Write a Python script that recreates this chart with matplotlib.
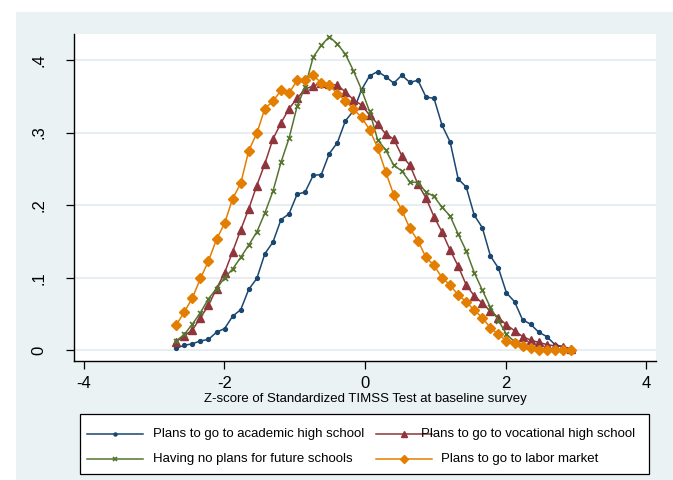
import matplotlib.pyplot as plt
from matplotlib.lines import Line2D
from matplotlib.patches import Rectangle

plt.rcParams['font.family'] = ['Liberation Sans', 'DejaVu Sans']
plt.rcParams['axes.unicode_minus'] = False

# evaluation points of the kernel densities (z-score)
zscore = [-2.685, -2.570, -2.456, -2.341, -2.227, -2.112, -1.997, -1.883, -1.768, -1.654,
          -1.539, -1.425, -1.310, -1.195, -1.081, -0.966, -0.852, -0.737, -0.622, -0.508,
          -0.393, -0.279, -0.164, -0.049, 0.065, 0.180, 0.294, 0.409, 0.524, 0.638,
          0.753, 0.867, 0.982, 1.096, 1.211, 1.326, 1.440, 1.555, 1.669, 1.784,
          1.899, 2.013, 2.128, 2.242, 2.357, 2.471, 2.586, 2.701, 2.815, 2.930]

academic = [0.003, 0.007, 0.009, 0.013, 0.015, 0.025, 0.030, 0.047, 0.056, 0.084,
            0.099, 0.133, 0.149, 0.180, 0.188, 0.215, 0.218, 0.241, 0.242, 0.271,
            0.286, 0.316, 0.330, 0.359, 0.378, 0.384, 0.377, 0.368, 0.379, 0.369,
            0.372, 0.349, 0.347, 0.310, 0.287, 0.236, 0.225, 0.186, 0.169, 0.130,
            0.113, 0.079, 0.067, 0.042, 0.036, 0.025, 0.019, 0.008, 0.005, 0.002]

vocational = [0.012, 0.020, 0.028, 0.045, 0.062, 0.085, 0.107, 0.136, 0.166, 0.195,
              0.227, 0.257, 0.291, 0.313, 0.333, 0.347, 0.360, 0.364, 0.368, 0.367,
              0.365, 0.356, 0.345, 0.338, 0.324, 0.312, 0.298, 0.291, 0.268, 0.255,
              0.229, 0.210, 0.184, 0.163, 0.138, 0.116, 0.090, 0.075, 0.065, 0.054,
              0.045, 0.035, 0.027, 0.019, 0.014, 0.011, 0.008, 0.006, 0.005, 0.002]

no_plans = [0.013, 0.022, 0.036, 0.052, 0.071, 0.085, 0.100, 0.112, 0.128, 0.145,
            0.163, 0.189, 0.219, 0.259, 0.292, 0.336, 0.363, 0.404, 0.420, 0.432,
            0.422, 0.408, 0.385, 0.359, 0.329, 0.290, 0.276, 0.255, 0.247, 0.232,
            0.231, 0.218, 0.212, 0.197, 0.185, 0.160, 0.137, 0.107, 0.083, 0.059,
            0.041, 0.022, 0.012, 0.005, 0.003, 0.0015, 0.001, 0.0005, 0.0005, 0.0005]

labor = [0.035, 0.053, 0.072, 0.099, 0.123, 0.153, 0.175, 0.209, 0.230, 0.275,
         0.299, 0.333, 0.343, 0.358, 0.354, 0.372, 0.373, 0.379, 0.368, 0.366,
         0.353, 0.344, 0.332, 0.321, 0.304, 0.279, 0.246, 0.214, 0.193, 0.168,
         0.151, 0.128, 0.117, 0.100, 0.090, 0.076, 0.067, 0.055, 0.045, 0.031,
         0.022, 0.013, 0.010, 0.006, 0.003, 0.001, 0.0, 0.0, 0.0, 0.0]

labels = ["Plans to go to academic high school", "Plans to go to vocational high school",
          "Having no plans for future schools", "Plans to go to labor market"]
xticks = [-4, -2, 0, 2, 4]
yticks = [0, 0.1, 0.2, 0.3, 0.4]
ytick_labels = ["0", ".1", ".2", ".3", ".4"]

colors = ['#1A476F', '#90353B', '#55752F', '#E37E00']
styles = [dict(marker='o', ms=2.8),
          dict(marker='^', ms=5.2),
          dict(marker='x', ms=3.6, mew=1.2),
          dict(marker='D', ms=5.0)]
series = [academic, vocational, no_plans, labor]

fig = plt.figure(figsize=(6.73, 4.8), dpi=100, facecolor='white')
# stata-like graph region
fig.add_artist(Rectangle((16 / 673, 0), 1, (480 - 11.6) / 480, transform=fig.transFigure,
                         facecolor='#EAF2F3', edgecolor='none', zorder=-1))

ax = fig.add_axes([74 / 673, (480 - 361) / 480, 582 / 673, 327.5 / 480])
ax.set_facecolor('white')

for y, c, st in zip(series, colors, styles):
    ax.plot(zscore, y, color=c, lw=1.1, mec=c, mfc=c, **st)

ax.set_xlim(-4.14, 4.14)
ax.set_ylim(-0.0147, 0.4364)
ax.set_xticks(xticks)
ax.set_yticks(yticks)
ax.set_yticklabels(ytick_labels, rotation=90, va='center')
ax.tick_params(axis='both', labelsize=12, length=6, width=0.9, color='black')
ax.tick_params(axis='x', pad=5)
ax.tick_params(axis='y', pad=14)
ax.grid(axis='y', color='#E4EDF0', lw=1.3)
ax.set_axisbelow(True)
for s in ['top', 'right']:
    ax.spines[s].set_visible(False)
for s in ['left', 'bottom']:
    ax.spines[s].set_linewidth(1.0)
ax.set_xlabel("Z-score of Standardized TIMSS Test at baseline survey", fontsize=9.5, labelpad=1)

# legend drawn in pixel coordinates
lax = fig.add_axes([0, 0, 1, 1])
lax.set_xlim(0, 673)
lax.set_ylim(480, 0)
lax.axis('off')
lax.patch.set_visible(False)
lax.add_patch(Rectangle((80, 414), 569, 60, facecolor='white', edgecolor='black', lw=0.9))
rows = [433.7, 433.7, 459.3, 459.3]
line_x = [(87, 143), (376, 432), (87, 143), (376, 432)]
text_x = [153, 421, 153, 441]
leg_ms = [2.2, 4.5, 3.0, 4.5]
for i in range(4):
    x0, x1 = line_x[i]
    st = dict(styles[i], ms=leg_ms[i])
    lax.add_line(Line2D([x0, x1], [rows[i], rows[i]], color=colors[i], lw=1.1))
    lax.add_line(Line2D([(x0 + x1) / 2], [rows[i]], color=colors[i], mec=colors[i],
                        mfc=colors[i], ls='none', **st))
    lax.text(text_x[i], rows[i], labels[i], fontsize=9.5, va='center', ha='left')

fig.savefig('out.png', dpi=100)
